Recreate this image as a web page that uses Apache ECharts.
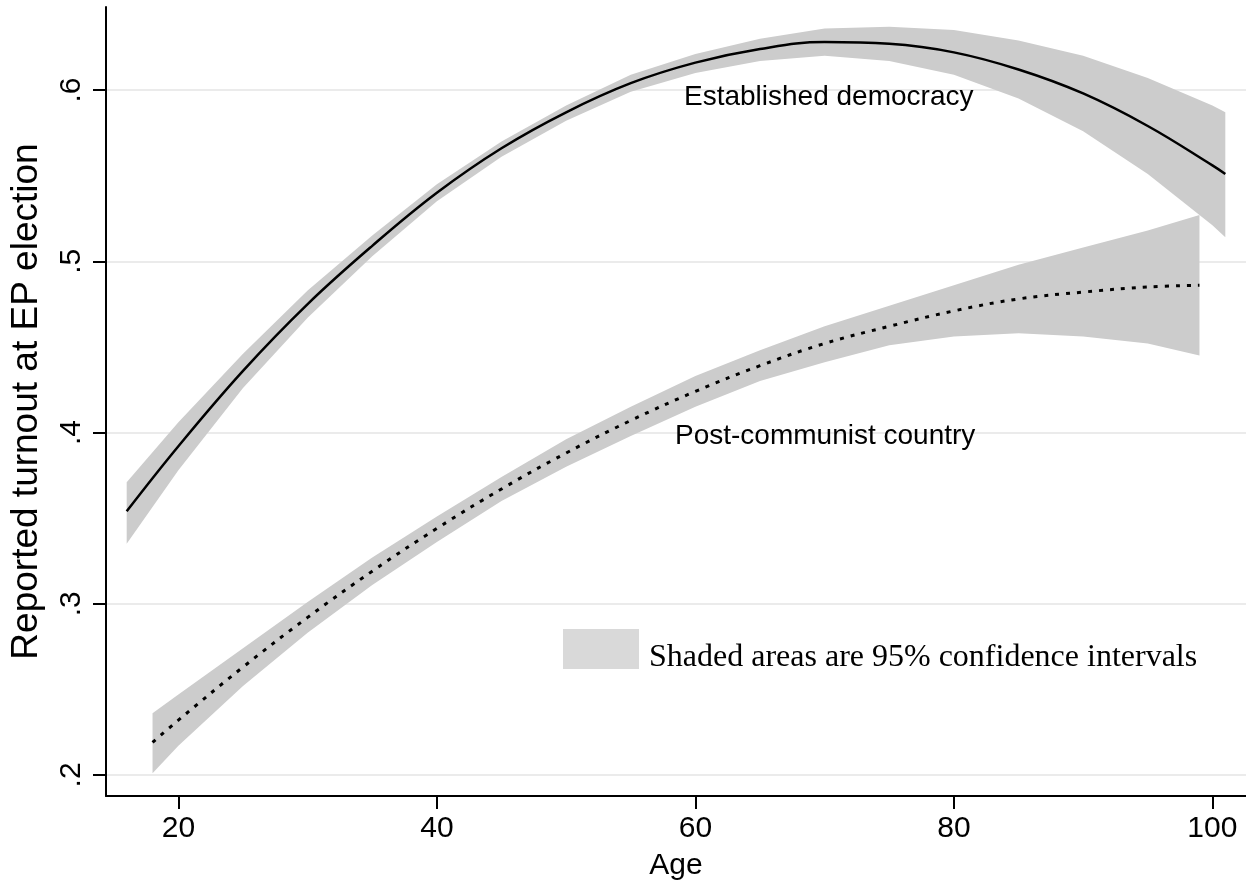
<!DOCTYPE html>
<html>
<head>
<meta charset="utf-8">
<script src="https://cdn.jsdelivr.net/npm/echarts@6/dist/echarts.min.js"></script>
<style>
html,body{margin:0;padding:0;background:#fff;}
#chart{width:1246px;height:886px;}
</style>
</head>
<body>
<div id="chart"></div>
<script>
// Established democracy
const ageED = [16,20,25,30,35,40,45,50,55,60,65,70,75,80,85,90,95,100,101];
const fitED = [0.354,0.392,0.436,0.475,0.509,0.540,0.566,0.587,0.604,0.616,0.624,0.628,0.627,0.622,0.612,0.598,0.579,0.556,0.551];
const hiED  = [0.371,0.406,0.446,0.483,0.515,0.545,0.570,0.591,0.609,0.621,0.630,0.636,0.637,0.635,0.629,0.620,0.607,0.591,0.587];
const loED  = [0.335,0.378,0.426,0.467,0.503,0.535,0.561,0.582,0.599,0.610,0.617,0.620,0.617,0.609,0.595,0.576,0.551,0.521,0.514];
// Post-communist country
const agePC = [18,20,25,30,35,40,45,50,55,60,65,70,75,80,85,90,95,99];
const fitPC = [0.219,0.232,0.263,0.292,0.319,0.344,0.367,0.388,0.407,0.424,0.439,0.452,0.462,0.471,0.478,0.482,0.485,0.486];
const hiPC  = [0.236,0.247,0.274,0.301,0.327,0.351,0.374,0.396,0.415,0.433,0.448,0.462,0.474,0.486,0.498,0.508,0.518,0.527];
const loPC  = [0.201,0.217,0.252,0.283,0.311,0.336,0.360,0.380,0.398,0.415,0.430,0.441,0.451,0.456,0.458,0.456,0.452,0.445];
// Ticks
const xTicks = [20,40,60,80,100];
const yTicks = [0.2,0.3,0.4,0.5,0.6];

const FONT = '"Liberation Sans", Arial, Helvetica, sans-serif';

function bandSeries(ages, lo, hi) {
  return {
    type: 'custom',
    silent: true,
    z: 1,
    data: ages.map((a, i) => [a, lo[i], hi[i]]),
    encode: { x: 0, y: [1, 2] },
    renderItem: function (params, api) {
      if (params.dataIndex !== 0) return null;
      const up = [], dn = [];
      for (let i = 0; i < ages.length; i++) up.push(api.coord([ages[i], hi[i]]));
      for (let i = ages.length - 1; i >= 0; i--) dn.push(api.coord([ages[i], lo[i]]));
      return {
        type: 'group',
        children: [
          { type: 'polygon', shape: { points: up.concat(dn) }, style: { fill: '#cccccc', stroke: null } }
        ]
      };
    }
  };
}

const chart = echarts.init(document.getElementById('chart'), null, { renderer: 'canvas' });
chart.setOption({
  animation: false,
  backgroundColor: '#ffffff',
  grid: { left: 106, right: 0, top: 7, bottom: 90, containLabel: false },
  xAxis: {
    type: 'value', min: 14.4, max: 102.6,
    name: 'Age', nameLocation: 'middle', nameGap: 55,
    nameTextStyle: { fontFamily: FONT, fontSize: 30, color: '#000' },
    axisLine: { show: true, onZero: false, lineStyle: { color: '#000', width: 2 } },
    axisTick: { show: true, inside: false, length: 13, lineStyle: { color: '#000', width: 2 }, customValues: xTicks },
    axisLabel: { customValues: xTicks, margin: 18, fontFamily: FONT, fontSize: 30, color: '#000' },
    splitLine: { show: false }
  },
  yAxis: {
    type: 'value', min: 0.1877, max: 0.6485,
    name: 'Reported turnout at EP election', nameLocation: 'middle', nameGap: 61,
    nameTextStyle: { fontFamily: FONT, fontSize: 37, color: '#000' },
    axisLine: { show: true, onZero: false, lineStyle: { color: '#000', width: 2 } },
    axisTick: { show: true, inside: false, length: 13, lineStyle: { color: '#000', width: 2 }, customValues: yTicks },
    axisLabel: {
      customValues: yTicks, rotate: 90, margin: 19, fontFamily: FONT, fontSize: 30, color: '#000',
      formatter: v => v.toFixed(1).replace(/^0\./, '.')
    },
    splitLine: { show: true, lineStyle: { color: '#ebebeb', width: 2 } }
  },
  series: [
    bandSeries(ageED, loED, hiED),
    bandSeries(agePC, loPC, hiPC),
    {
      type: 'line', z: 3, data: ageED.map((a, i) => [a, fitED[i]]), smooth: 0.4,
      showSymbol: false, symbol: 'none', lineStyle: { color: '#000', width: 2.5, type: 'solid' }
    },
    {
      type: 'line', z: 3, data: agePC.map((a, i) => [a, fitPC[i]]), smooth: 0.4,
      showSymbol: false, symbol: 'none', lineStyle: { color: '#000', width: 3, type: [4, 7] }
    }
  ],
  graphic: [
    { type: 'text', z: 10, style: { x: 684, y: 97, text: 'Established democracy', font: '28px ' + FONT, fill: '#000', verticalAlign: 'middle' } },
    { type: 'text', z: 10, style: { x: 675, y: 436, text: 'Post-communist country', font: '28px ' + FONT, fill: '#000', verticalAlign: 'middle' } },
    { type: 'rect', z: 10, shape: { x: 563, y: 629, width: 76, height: 40 }, style: { fill: '#d9d9d9' } },
    { type: 'text', z: 10, style: { x: 649, y: 658, text: 'Shaded areas are 95% confidence intervals', font: '32px "Liberation Serif", "Times New Roman", serif', fill: '#000', verticalAlign: 'middle' } }
  ]
});
</script>
</body>
</html>
